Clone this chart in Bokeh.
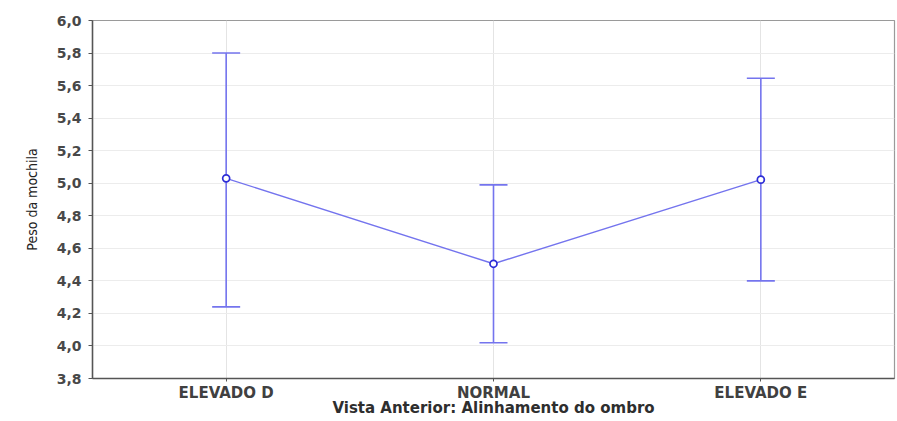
from bokeh.plotting import figure
from bokeh.models import (ColumnDataSource, FactorRange, Range1d, FixedTicker, CustomJSTickFormatter,
                          Whisker, TeeHead)
from bokeh.embed import file_html
from bokeh.resources import INLINE

categories = ["ELEVADO D", "NORMAL", "ELEVADO E"]
means = [5.03, 4.505, 5.022]
upper = [5.80, 4.99, 5.645]
lower = [4.24, 4.02, 4.40]
y_ticks = [3.8, 4.0, 4.2, 4.4, 4.6, 4.8, 5.0, 5.2, 5.4, 5.6, 5.8, 6.0]
x_title = "Vista Anterior: Alinhamento do ombro"
y_title = "Peso da mochila"

src = ColumnDataSource(dict(cat=categories, mean=means, upper=upper, lower=lower))

line_col = "#7474ee"
mark_col = "#2d2dd6"
font = "DejaVu Sans"

p = figure(width=897, height=421, x_range=FactorRange(*categories), y_range=Range1d(3.8, 6.0),
           output_backend="svg", toolbar_location=None,
           min_border_left=92, min_border_right=3, min_border_top=20, min_border_bottom=43)
p.background_fill_color = "white"
p.border_fill_color = "white"
p.outline_line_color = "#9a9a9a"
p.outline_line_width = 1.2

p.line("cat", "mean", source=src, line_color=line_col, line_width=1.4)
w = Whisker(base="cat", upper="upper", lower="lower", source=src, line_color=line_col, line_width=1.6,
            upper_head=TeeHead(size=28, line_color=line_col, line_width=1.6),
            lower_head=TeeHead(size=28, line_color=line_col, line_width=1.6))
p.add_layout(w)
p.scatter("cat", "mean", source=src, size=7, marker="circle", fill_color="white",
          line_color=mark_col, line_width=1.7)

# axes
p.yaxis.ticker = FixedTicker(ticks=y_ticks)
p.yaxis.formatter = CustomJSTickFormatter(code="return tick.toFixed(1).replace('.', ',');")
p.yaxis.minor_tick_line_color = None
p.yaxis.major_tick_out = 4
p.yaxis.major_tick_in = 0
p.yaxis.major_label_standoff = 7
p.yaxis.major_label_text_font = font
p.yaxis.major_label_text_font_style = "bold"
p.yaxis.major_label_text_font_size = "14px"
p.yaxis.major_label_text_color = "#484848"
p.yaxis.axis_line_color = "#555555"
p.yaxis.axis_line_width = 1.5
p.yaxis.major_tick_line_color = "#555555"
p.yaxis.axis_label = y_title
p.yaxis.axis_label_text_font = "DejaVu Sans Condensed, Liberation Sans"
p.yaxis.axis_label_text_font_style = "normal"
p.yaxis.axis_label_text_font_size = "14px"
p.yaxis.axis_label_text_color = "#222222"
p.yaxis.axis_label_standoff = 14

p.xaxis.major_tick_out = 3
p.xaxis.major_tick_in = 0
p.xaxis.major_label_standoff = 2
p.xaxis.major_label_text_font = font
p.xaxis.major_label_text_font_style = "bold"
p.xaxis.major_label_text_font_size = "15px"
p.xaxis.major_label_text_color = "#404040"
p.xaxis.axis_line_color = "#555555"
p.xaxis.axis_line_width = 1.5
p.xaxis.major_tick_line_color = "#555555"
p.xaxis.axis_label = x_title
p.xaxis.axis_label_text_font = font
p.xaxis.axis_label_text_font_style = "bold"
p.xaxis.axis_label_text_font_size = "15px"
p.xaxis.axis_label_text_color = "#2e2e2e"
p.xaxis.axis_label_standoff = -6

p.xgrid.grid_line_color = "#e4e4e4"
p.ygrid.grid_line_color = "#ececec"
p.ygrid.ticker = FixedTicker(ticks=y_ticks)

open("out.html", "w").write(file_html(p, INLINE))
